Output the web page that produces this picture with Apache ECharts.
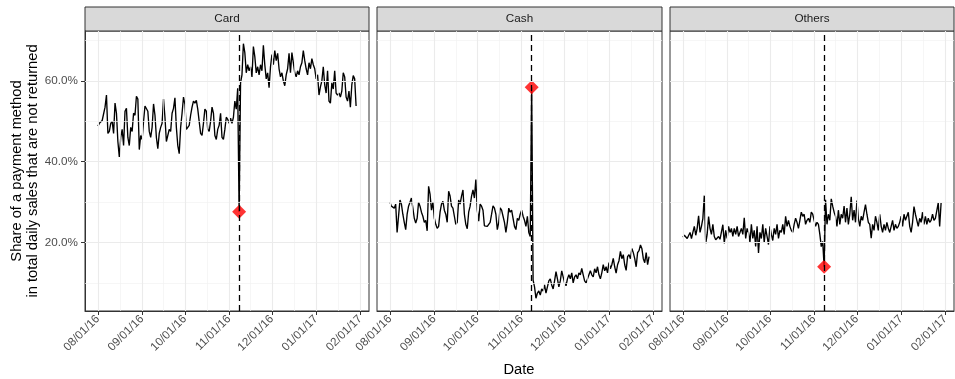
<!DOCTYPE html>
<html><head><meta charset="utf-8">
<script src="https://cdn.jsdelivr.net/npm/echarts@6/dist/echarts.min.js"></script>
<style>html,body{margin:0;padding:0;background:#fff}#chart{width:955px;height:379px}</style>
</head><body><div id="chart"></div>
<script>
const startDate = '2016-08-01';
const eventDate = '2016-11-08';
const panels = ['Card', 'Cash', 'Others'];
const monthBreaks = ['2016-08-01','2016-09-01','2016-10-01','2016-11-01','2016-12-01','2017-01-01','2017-02-01'];
const yBreaks = [20, 40, 60];
const yMinorBreaks = [10, 30, 50, 70];
const yTitle = 'Share of a payment method\nin total daily sales that are not returned';
const xTitle = 'Date';

const card = [
48.8, 49.5, 49.8, 50.2, 50.0, 53.5, 56.5,
47.0, 47.5, 49.5, 50.0, 47.0, 54.5, 52.0,
45.0, 41.2, 46.0, 48.0, 44.0, 52.5, 53.2,
46.0, 44.0, 48.5, 47.5, 52.0, 51.5, 56.2,
55.5, 43.0, 46.5, 45.5, 50.0, 53.8, 54.0,
52.5, 47.5, 46.0, 48.5, 54.3, 51.5, 46.0,
43.2, 47.0, 48.5, 49.5, 55.5, 51.0, 45.0,
44.8, 48.0, 47.5, 52.0, 53.2, 55.8, 48.5,
44.0, 42.0, 48.5, 52.0, 56.0, 54.2, 48.0,
48.5, 49.0, 51.5, 53.5, 55.0, 54.5, 55.2,
53.0, 50.0, 47.0, 46.5, 49.5, 53.0, 52.5,
48.0, 47.5, 50.0, 53.5, 52.0, 46.5, 45.5,
48.0, 49.0, 52.0, 46.0, 45.5, 48.0, 51.0,
50.5, 49.5, 50.8, 49.5, 51.0, 55.0, 53.0,
58.2, 27.6,
59.5, 61.5, 69.2, 67.0, 62.0, 64.0, 62.5, 63.5, 61.0, 68.5,
66.0, 62.0, 63.5, 61.5, 64.0, 62.5, 68.8, 64.0, 60.5, 62.0,
58.3, 63.5, 66.5, 64.0, 67.5, 65.0, 66.8, 63.0, 61.0, 62.0,
60.0, 58.8, 61.5, 63.0, 66.8, 62.0, 67.0, 64.5, 62.0, 61.0,
62.5, 61.5, 63.5, 64.5, 67.5, 65.0, 63.0, 61.5, 64.5, 63.0,
65.5, 64.0, 63.0, 60.5, 61.5, 56.5, 58.5, 60.0, 63.5, 59.0,
57.0, 62.5, 55.0, 54.5, 59.5, 58.0, 62.5, 57.0, 56.5, 57.0,
56.0, 57.5, 62.0, 61.0, 56.0, 55.0, 57.5, 53.5, 59.0, 61.3,
60.5, 53.8
];
const cash = [
30.0, 29.0, 29.2, 28.5, 29.5, 22.5, 22.8,
30.5, 29.5, 27.0, 25.0, 23.2, 27.0, 29.0,
30.0, 31.0, 28.5, 26.0, 24.8, 26.0, 30.0,
29.0, 27.5, 26.5, 25.0, 25.5, 22.9, 33.9,
32.0, 28.0, 30.0, 26.0, 24.5, 23.5, 24.0,
27.5, 29.5, 30.2, 28.0, 27.0, 25.0, 32.7,
31.5, 29.0, 28.5, 26.5, 24.5, 25.0, 30.5,
29.5, 31.5, 33.0, 27.0, 24.5, 23.4, 27.5,
29.0, 31.5, 33.0, 31.0, 35.6, 28.0, 25.3,
29.5, 29.0, 28.0, 24.1, 24.5, 24.0, 24.5,
25.0, 27.0, 29.1, 28.5, 27.0, 23.2, 25.0,
28.6, 28.0, 26.5, 25.0, 22.5, 25.0, 28.5,
27.5, 28.0, 26.0, 24.0, 23.2, 26.0, 25.5,
27.0, 28.0, 26.5, 25.5, 24.0, 26.5, 22.5,
21.5, 58.4,
10.7, 9.0, 6.2, 7.5, 8.0, 7.0, 8.5, 8.0, 9.5, 7.5,
9.0, 10.5, 11.0, 9.5, 8.5, 10.5, 12.8, 11.0, 9.0, 10.5,
13.0, 11.5, 10.0, 9.3, 11.0, 12.0, 11.0, 12.5, 10.0, 11.5,
12.0, 11.0, 12.5, 12.0, 13.6, 12.0, 10.5, 10.0, 11.0, 12.0,
13.0, 12.0, 11.5, 13.5, 12.5, 14.0, 12.0, 11.0, 12.5, 14.5,
13.0, 14.0, 12.5, 15.0, 13.5, 14.5, 16.1, 14.0, 12.4, 14.5,
15.5, 17.8, 16.0, 17.0, 14.5, 13.1, 16.5, 17.0, 16.0, 18.5,
17.5, 16.0, 14.0, 17.5, 18.0, 19.4, 18.5, 16.0, 15.0, 17.5,
14.5, 16.5
];
const others = [
21.3, 21.8, 21.5, 21.0, 21.4, 22.5, 21.0,
22.5, 24.0, 21.8, 23.5, 26.6, 22.5, 24.0,
26.0, 31.6, 19.8, 22.0, 26.4, 23.5, 22.0,
24.5, 21.5, 20.7, 20.8, 21.5, 20.8, 21.0,
24.4, 19.8, 23.0, 21.0, 24.0, 22.5, 23.5,
21.5, 23.5, 22.0, 24.0, 21.5, 22.5, 23.5,
22.0, 26.1, 21.0, 23.5, 22.5, 20.0, 24.5,
21.0, 23.0, 19.0, 24.0, 17.4, 22.5, 21.0,
24.5, 20.0, 23.5, 21.5, 19.5, 24.0, 22.0,
20.5, 23.5, 22.0, 24.5, 21.0, 23.0, 22.5,
24.5, 22.0, 26.5, 24.0, 25.5, 24.0, 23.0,
22.5, 24.5, 26.0, 25.0, 23.5, 25.5, 27.5,
26.5, 27.0, 24.5, 25.5, 26.0, 25.0, 27.5,
27.0, 25.5, 24.0, 25.0, 24.5, 22.0, 19.0,
20.3, 14.0,
30.6, 24.5, 27.0, 25.5, 30.8, 29.0, 27.5, 26.5, 24.0, 28.0,
24.5, 27.0, 26.0, 29.0, 25.0, 28.5, 24.5, 27.0, 31.3, 25.5,
28.0, 25.0, 30.4, 26.0, 24.0, 26.5, 25.5, 27.5, 29.4, 27.0,
25.0, 24.5, 21.1, 24.5, 23.0, 26.5, 25.0, 23.0, 27.0, 24.0,
22.5, 24.5, 23.0, 25.0, 23.5, 22.5, 24.0, 25.5, 23.0, 24.5,
23.5, 24.0, 25.0, 26.5, 24.0, 27.0, 25.5, 26.5, 27.5, 24.0,
22.5, 25.0, 28.9, 27.0, 25.5, 24.0, 26.0, 25.0, 27.5, 24.5,
26.5, 24.5, 26.0, 25.0, 25.5, 27.0, 25.5, 26.0, 26.0, 29.8,
24.0, 29.8
];

const seriesValues = [card, cash, others];
const DAY = 86400000;
const toTs = s => { const p = s.split('-').map(Number); return Date.UTC(p[0], p[1] - 1, p[2]); };
const t0 = toTs(startDate);
const tEvent = toTs(eventDate);
const eventIdx = Math.round((tEvent - t0) / DAY);
const n = card.length;
const xDataMax = t0 + (n - 1) * DAY;
const xPad = (xDataMax - t0) * 0.05;
const xMin = t0 - xPad, xMax = xDataMax + xPad;
const allVals = card.concat(cash, others);
const vMin = Math.min.apply(null, allVals), vMax = Math.max.apply(null, allVals);
const yPad = (vMax - vMin) * 0.05;
const yMin = vMin - yPad, yMax = vMax + yPad;
const majorX = monthBreaks.map(toTs);
const minorX = majorX.slice(1).map((t, i) => (t + majorX[i]) / 2).filter(t => t > xMin && t < xMax);

const pad2 = v => (v < 10 ? '0' : '') + v;
const fmtDate = v => { const d = new Date(v); return pad2(d.getUTCMonth() + 1) + '/' + pad2(d.getUTCDate()) + '/' + pad2(d.getUTCFullYear() % 100); };

const FONT = 'Liberation Sans, Arial, sans-serif';
const gridLefts = [85, 377, 670];
const gridWidths = [284, 285, 284];
const gridTop = 31, gridHeight = 280;

const grids = [], xAxes = [], yAxes = [], series = [], graphics = [];
panels.forEach((name, i) => {
  grids.push({ left: gridLefts[i], top: gridTop, width: gridWidths[i], height: gridHeight,
    show: true, borderColor: '#333333', borderWidth: 1, backgroundColor: '#ffffff' });
  xAxes.push({ type: 'value', gridIndex: i, min: xMin, max: xMax,
    axisLine: { show: true, lineStyle: { color: '#333333', width: 1 } },
    splitLine: { show: false },
    axisTick: { show: true, length: 4, customValues: majorX, lineStyle: { color: '#333333', width: 1 } },
    axisLabel: { customValues: majorX, rotate: 45, margin: 6, formatter: fmtDate,
      color: '#4d4d4d', fontSize: 11.7, fontFamily: FONT } });
  yAxes.push({ type: 'value', gridIndex: i, min: yMin, max: yMax,
    axisLine: { show: i === 0, lineStyle: { color: '#333333', width: 1 } },
    splitLine: { show: false },
    axisTick: { show: i === 0, length: 4, customValues: yBreaks, lineStyle: { color: '#333333', width: 1 } },
    axisLabel: { show: i === 0, customValues: yBreaks, margin: 7, formatter: v => v.toFixed(1) + '%',
      color: '#4d4d4d', fontSize: 11.7, fontFamily: FONT } });
  const data = seriesValues[i].map((v, k) => [t0 + k * DAY, v]);
  // gridlines (helper series)
  series.push({ type: 'line', xAxisIndex: i, yAxisIndex: i, data: data, symbol: 'none', silent: true,
    lineStyle: { opacity: 0 }, z: 1, animation: false,
    markLine: { silent: true, symbol: ['none', 'none'], label: { show: false }, animation: false,
      data: []
        .concat(minorX.map(v => ({ xAxis: v, lineStyle: { color: '#f2f2f2', width: 0.7, type: 'solid' } })))
        .concat(yMinorBreaks.map(v => ({ yAxis: v, lineStyle: { color: '#f2f2f2', width: 0.7, type: 'solid' } })))
        .concat(majorX.map(v => ({ xAxis: v, lineStyle: { color: '#ebebeb', width: 1.1, type: 'solid' } })))
        .concat(yBreaks.map(v => ({ yAxis: v, lineStyle: { color: '#ebebeb', width: 1.1, type: 'solid' } })))
    } });
  // data line
  series.push({ type: 'line', name: name, xAxisIndex: i, yAxisIndex: i, data: data, symbol: 'none',
    lineStyle: { color: '#000000', width: 1.35 }, z: 3, animation: false });
  // red diamond at event
  series.push({ type: 'scatter', xAxisIndex: i, yAxisIndex: i, data: [[tEvent, seriesValues[i][eventIdx]]],
    symbol: 'diamond', symbolSize: 14, itemStyle: { color: '#ff0000' }, z: 4, animation: false });
  // dashed event line
  series.push({ type: 'line', xAxisIndex: i, yAxisIndex: i, data: data, symbol: 'none', silent: true,
    lineStyle: { opacity: 0 }, z: 5, animation: false,
    markLine: { silent: true, symbol: ['none', 'none'], label: { show: false }, animation: false,
      data: [{ xAxis: tEvent, lineStyle: { color: '#000000', width: 1.3, type: [6, 4] } }] } });
  // strip
  graphics.push({ type: 'rect', shape: { x: gridLefts[i], y: 7, width: gridWidths[i], height: 24 },
    style: { fill: '#d9d9d9', stroke: '#333333', lineWidth: 1 } });
  graphics.push({ type: 'text', x: gridLefts[i] + gridWidths[i] / 2, y: 19,
    style: { text: name, align: 'center', verticalAlign: 'middle', fill: '#1a1a1a', font: '11.7px ' + FONT } });
});
graphics.push({ type: 'text', x: 25, y: 171, rotation: Math.PI / 2,
  style: { text: yTitle, align: 'center', verticalAlign: 'middle', fill: '#000000', font: '14.7px ' + FONT, lineHeight: 16.5 } });
graphics.push({ type: 'text', x: 519, y: 370,
  style: { text: xTitle, align: 'center', verticalAlign: 'middle', fill: '#000000', font: '14.7px ' + FONT } });

const chart = echarts.init(document.getElementById('chart'), null, { renderer: 'canvas' });
chart.setOption({ animation: false, backgroundColor: '#ffffff', grid: grids, xAxis: xAxes, yAxis: yAxes, series: series, graphic: graphics });
</script></body></html>
